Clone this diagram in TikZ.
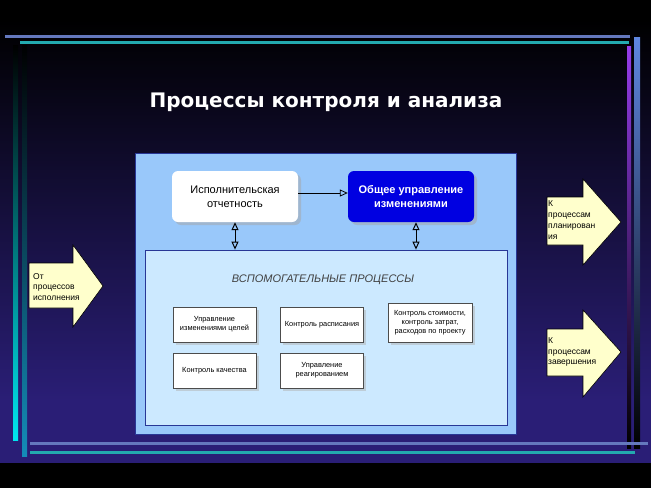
\documentclass[tikz,border=0pt]{standalone}
\usepackage{fontspec}
\setmainfont{Liberation Sans}
\newfontfamily\titlefont{DejaVu Sans}
\usetikzlibrary{arrows.meta,shadows}
\definecolor{bgblue}{RGB}{42,30,118}
\definecolor{bgmid}{RGB}{18,14,62}
\definecolor{framegray}{RGB}{100,120,190}
\definecolor{frameteal}{RGB}{35,170,175}
\definecolor{panelblue}{RGB}{153,200,250}
\definecolor{innerblue}{RGB}{204,233,255}
\definecolor{panelline}{RGB}{40,55,150}
\definecolor{boxblue}{RGB}{0,0,225}
\definecolor{notecol}{RGB}{255,255,204}
\tikzset{
  topbox/.style={rounded corners=6pt, minimum width=126pt, minimum height=51pt, align=center,
    drop shadow={shadow xshift=3pt, shadow yshift=-3pt, fill=gray!70}},
  subbox/.style={draw=gray!60!black, fill=white, minimum width=83pt, minimum height=35pt, align=center,
    inner sep=1pt, font=\fontsize{7.4}{9}\selectfont,
    drop shadow={shadow xshift=2.5pt, shadow yshift=-2.5pt, fill=gray!60}},
  flowarrow/.style={draw=black, fill=notecol, line width=0.6pt},
  arrowtext/.style={anchor=west, align=left, inner sep=0pt, font=\fontsize{8.5}{10.8}\selectfont},
  linktip/.style={line width=1pt, {Triangle[open,length=8pt,width=7pt]}-{Triangle[open,length=8pt,width=7pt]}}
}
\begin{document}
\begin{tikzpicture}[x=1pt,y=-1pt]
\useasboundingbox (0,0) rectangle (651,488);
\fill[black] (0,0) rectangle (651,488);
\shade[top color=black, middle color=bgmid, bottom color=bgblue] (0,20) rectangle (651,400);
\fill[bgblue] (0,399) rectangle (651,463);
\fill[black] (0,463) rectangle (651,488);
\draw[framegray, line width=3pt] (5,36) -- (630,36);
\draw[frameteal, line width=3pt] (20,42) -- (629,42);
\shade[top color=black, bottom color={rgb,255:red,0;green,230;blue,240}] (13,45) rectangle (18,440);
\shade[top color=black, bottom color={rgb,255:red,20;green,140;blue,185}] (22,45) rectangle (27,456);
\shade[top color={rgb,255:red,150;green,60;blue,235}, middle color={rgb,255:red,80;green,35;blue,160}, bottom color=black] (627,46) rectangle (631,448);
\shade[top color={rgb,255:red,95;green,135;blue,225}, middle color={rgb,255:red,55;green,75;blue,160}, bottom color=black] (634,37) rectangle (640,448);
\draw[framegray, line width=3pt] (30,443) -- (648,443);
\draw[frameteal, line width=3pt] (30,452) -- (635,452);
\node[text=white, font=\titlefont\bfseries\fontsize{20}{23}\selectfont] (title) at (326,102) {Процессы контроля и анализа};
\fill[panelblue, draw=panelline, line width=0.5pt] (135,153) rectangle (516,434);
\node[draw=panelline, fill=innerblue, line width=0.8pt, minimum width=362pt, minimum height=175pt] (aux) at (326,337.5) {};
\node[font=\itshape\fontsize{11}{13}\selectfont, text=black!75] (auxlabel) at (323,280) {ВСПОМОГАТЕЛЬНЫЕ ПРОЦЕССЫ};
\node[topbox, fill=white, font=\fontsize{11}{14}\selectfont] (report) at (235,196.5) {Исполнительская\\отчетность};
\node[topbox, fill=boxblue, text=white, font=\bfseries\fontsize{11}{14}\selectfont] (change) at (411,196.5) {Общее управление\\изменениями};
\draw[line width=0.8pt, -{Triangle[open,length=8pt,width=7pt]}] ([yshift=3.5pt]report.east) -- ([yshift=3.5pt]change.west);
\draw[linktip] (report.south) -- (report.south |- aux.north);
\draw[linktip] ([xshift=5pt]change.south) -- ([xshift=5pt]change.south |- aux.north);
\node[subbox] (goals) at (214.5,324.5) {Управление\\изменениями целей};
\node[subbox] (schedule) at (322,324.5) {Контроль расписания};
\node[subbox, minimum width=84pt, minimum height=39pt] (cost) at (430,322.5) {Контроль стоимости,\\контроль затрат,\\расходов по проекту};
\node[subbox] (quality) at (214.5,370.5) {Контроль качества};
\node[subbox] (response) at (322,370.5) {Управление\\реагированием};
\draw[flowarrow] (29,263) -- (73,263) -- (73,245) -- (103,286) -- (73,327) -- (73,308) -- (29,308) -- cycle;
\node[arrowtext] (fromexec) at (33,287) {От\\процессов\\исполнения};
\draw[flowarrow] (547,197) -- (583,197) -- (583,179) -- (621,222) -- (583,265) -- (583,245) -- (547,245) -- cycle;
\node[arrowtext] (toplan) at (548,220) {К\\процессам\\планирован\\ия};
\draw[flowarrow] (547,329) -- (583,329) -- (583,310) -- (621,352) -- (583,397) -- (583,376) -- (547,376) -- cycle;
\node[arrowtext] (toclose) at (548,352) {К\\процессам\\завершения};
\end{tikzpicture}
\end{document}
